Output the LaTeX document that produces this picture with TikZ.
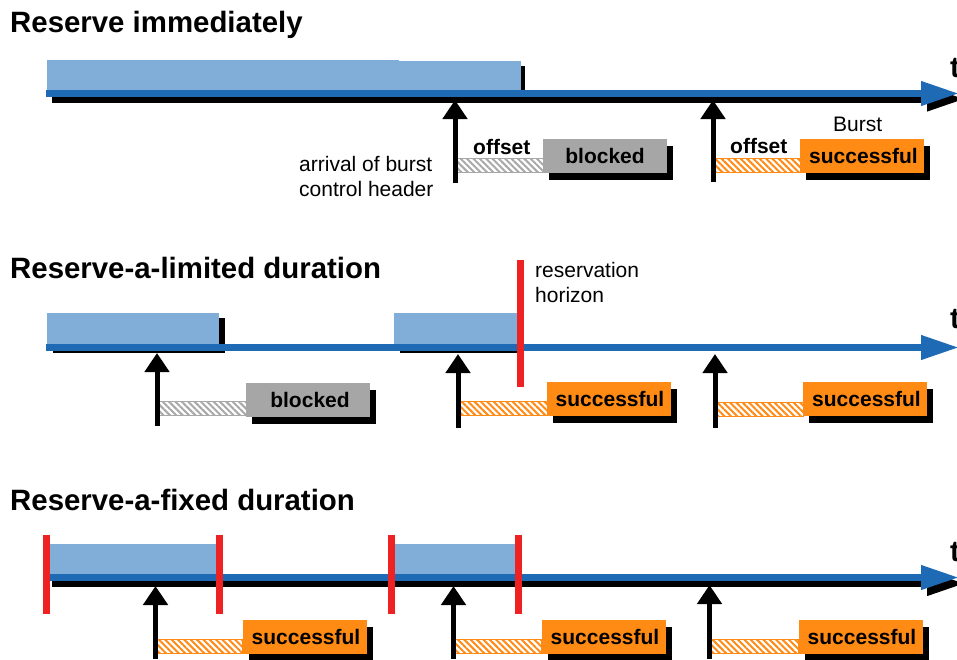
\documentclass[tikz,border=0pt]{standalone}
\usepackage{fontspec}
\setmainfont{Liberation Sans}
\usetikzlibrary{arrows.meta,patterns.meta,shadows}
\definecolor{axisblue}{HTML}{1F6AB4}
\definecolor{slotblue}{HTML}{80AED8}
\definecolor{horizonred}{HTML}{EE2222}
\definecolor{boxgray}{HTML}{A6A6A6}
\definecolor{burstorange}{HTML}{FF8A14}
\definecolor{hatchgray}{HTML}{A8A8A8}

\begin{document}
\begin{tikzpicture}[x=1pt,y=-1pt,
  title/.style={font=\fontsize{29.4}{33}\selectfont\bfseries, inner sep=0pt, anchor=base west},
  note/.style={font=\fontsize{21}{25}\selectfont, inner sep=0pt, anchor=base west},
  tag/.style={font=\fontsize{21}{25}\selectfont\bfseries, inner sep=0pt, anchor=base west},
  tlabel/.style={font=\fontsize{29.4}{33}\selectfont\bfseries, inner sep=0pt, anchor=base west},
  taxis/.style={line width=7pt, draw=axisblue, -{Triangle[width=23pt,length=38pt]}},
  taxisshadow/.style={line width=7pt, draw=black, -{Triangle[width=23pt,length=38pt]}},
  slot/.style={fill=slotblue},
  slotshadow/.style={fill=black},
  horizon/.style={line width=7pt, draw=horizonred},
  arrival/.style={line width=5pt, -{Triangle[width=24pt,length=19pt]}},
  state/.style={minimum width=124pt, minimum height=34pt, inner sep=0pt,
    font=\fontsize{21}{25}\selectfont\bfseries,
    drop shadow={shadow xshift=6pt, shadow yshift=-7pt, opacity=1, fill=black}},
  blockedbox/.style={state, fill=boxgray},
  okbox/.style={state, fill=burstorange},
  graybar/.style={draw=hatchgray, line width=0.8pt,
    pattern={Lines[angle=-45,distance=4.5pt,line width=2pt]}, pattern color=hatchgray},
  orangebar/.style={draw=burstorange, line width=0.8pt,
    pattern={Lines[angle=-45,distance=4.5pt,line width=2pt]}, pattern color=burstorange},
]
\path[use as bounding box, fill=white] (0,0) rectangle (957,659);
\clip (0,0) rectangle (957,659);

% ---------------- Reserve immediately ----------------
\node[title] (h1) at (10,32) {Reserve immediately};
\fill[slotshadow] (53,66) rectangle (525,96);
\fill[slot] (47,60) rectangle (399,90);
\fill[slot] (399,61) rectangle (521,90);
\coordinate (ax1s) at (46,93.5);
\coordinate (ax1e) at (959,93.5);
\draw[taxisshadow] ([shift={(6,5.5)}]ax1s) -- ([shift={(6,5.5)}]ax1e);
\draw[taxis] (ax1s) -- (ax1e);
\node[tlabel] (t1) at (950,77) {t};

\path[graybar] (457.5,158) rectangle (545,172);
\node[blockedbox] (b1) at (605,156) {blocked};
\node[tag] (o1) at (473,154) {offset};
\coordinate (r1a) at (455,183);
\coordinate (r1at) at (455,100);
\draw[arrival] (r1a) -- (r1at);
\node[note, align=left, anchor=west] (bch) at (299,176) {arrival of burst\\control header};

\path[orangebar] (715.5,158) rectangle (800,172);
\node[okbox] (s1) at (862,156) {\hspace*{3pt}successful};
\node[tag] (o2) at (730,153.3) {offset};
\node[note] (burst) at (833,131.7) {Burst};
\coordinate (r1b) at (713,182);
\coordinate (r1bt) at (713,100);
\draw[arrival] (r1b) -- (r1bt);

% ---------------- Reserve-a-limited duration ----------------
\node[title] (h2) at (10,278) {Reserve-a-limited duration};
\fill[slotshadow] (53,318) rectangle (225,353);
\fill[slot] (47,313) rectangle (219,347);
\fill[slotshadow] (400,318) rectangle (523,353);
\fill[slot] (394,313) rectangle (517,347);
\coordinate (ax2s) at (46,347.5);
\coordinate (ax2e) at (959,347.5);
\draw[taxis] (ax2s) -- (ax2e);
\node[tlabel] (t2) at (950,328) {t};
\coordinate (rhtop) at (520,260);
\coordinate (rhbot) at (520,387);
\draw[horizon] (rhtop) -- (rhbot);
\node[note, align=left, anchor=west] (rh) at (535,282.8) {reservation\\horizon};

\path[graybar] (159.5,401) rectangle (246,415);
\node[blockedbox] (b2) at (307.5,399.5) {\hspace*{5pt}blocked};
\coordinate (r2a) at (157,426);
\coordinate (r2at) at (157,353);
\draw[arrival] (r2a) -- (r2at);

\path[orangebar] (460.5,401) rectangle (547,415);
\node[okbox] (s2) at (608.5,398.5) {\hspace*{3pt}successful};
\coordinate (r2b) at (458,428);
\coordinate (r2bt) at (458,354);
\draw[arrival] (r2b) -- (r2bt);

\path[orangebar] (717.5,402) rectangle (803,416);
\node[okbox] (s3) at (865,399) {\hspace*{3pt}successful};
\coordinate (r2c) at (715,428);
\coordinate (r2ct) at (715,354);
\draw[arrival] (r2c) -- (r2ct);

% ---------------- Reserve-a-fixed duration ----------------
\node[title] (h3) at (10,510) {Reserve-a-fixed duration};
\fill[slotshadow] (56,550) rectangle (222,582);
\fill[slot] (50,544) rectangle (216,576);
\fill[slotshadow] (401,550) rectangle (521,582);
\fill[slot] (395,544) rectangle (515,576);
\coordinate (ax3s) at (46,577.5);
\coordinate (ax3e) at (959,577.5);
\draw[taxisshadow] ([shift={(6,6)}]ax3s) -- ([shift={(6,6)}]ax3e);
\draw[taxis] (ax3s) -- (ax3e);
\node[tlabel] (t3) at (950,561) {t};
\foreach \hx [count=\i] in {46.5,219.5,391.5,518.5}{
  \coordinate (fh\i top) at (\hx,535);
  \coordinate (fh\i bot) at (\hx,614);
  \draw[horizon] (fh\i top) -- (fh\i bot);
}

\path[orangebar] (157.5,639) rectangle (242,653);
\node[okbox] (s4) at (304.5,636.5) {\hspace*{3pt}successful};
\coordinate (r3a) at (155.5,659);
\coordinate (r3at) at (155.5,586);
\draw[arrival] (r3a) -- (r3at);

\path[orangebar] (455.5,639) rectangle (541,653);
\node[okbox] (s5) at (603.5,636.5) {\hspace*{3pt}successful};
\coordinate (r3b) at (453.5,659);
\coordinate (r3bt) at (453.5,586);
\draw[arrival] (r3b) -- (r3bt);

\path[orangebar] (711.5,639) rectangle (798,653);
\node[okbox] (s6) at (860.5,636.5) {\hspace*{3pt}successful};
\coordinate (r3c) at (709.5,659);
\coordinate (r3ct) at (709.5,585);
\draw[arrival] (r3c) -- (r3ct);
\end{tikzpicture}
\end{document}
